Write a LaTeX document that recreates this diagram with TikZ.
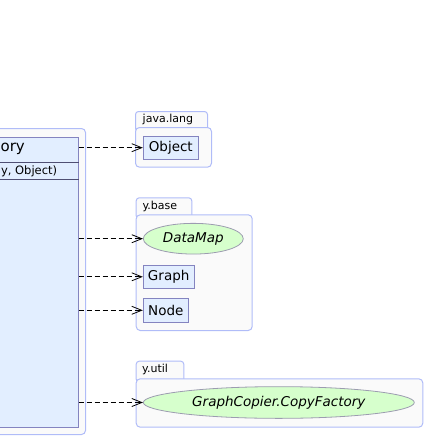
\documentclass[tikz,border=0pt]{standalone}
\usepackage{fontspec}
\setmainfont{DejaVu Sans}
\usetikzlibrary{arrows.meta,shapes.geometric}
\definecolor{pkgfill}{HTML}{FAFAFA}
\definecolor{pkgline}{HTML}{B0BCF8}
\definecolor{clsfill}{HTML}{E2EEFF}
\definecolor{clsline}{HTML}{8484C0}
\definecolor{ifill}{HTML}{D6FFCC}
\definecolor{iline}{HTML}{9C9CB0}
\begin{document}
\begin{tikzpicture}[x=1pt,y=-1pt,
  pkg/.style={draw=pkgline, fill=pkgfill, rounded corners=4pt, line width=1pt, inner sep=0pt, anchor=north west},
  pkgtab/.style={pkg, rounded corners=3pt},
  tablabel/.style={anchor=west, inner sep=0pt, font=\fontsize{11}{13}\selectfont},
  cls/.style={draw=clsline, fill=clsfill, line width=1pt, inner sep=0pt, font=\fontsize{13.5}{15}\selectfont},
  iface/.style={ellipse, draw=iline, fill=ifill, line width=0.8pt, inner sep=0pt, font=\fontsize{13.5}{15}\selectfont\itshape},
  dep/.style={draw=black, line width=0.8pt, dash pattern=on 5pt off 3pt, -{Straight Barb[length=10pt,width=8pt]}}]
\useasboundingbox (0,0) rectangle (425,437);

% left package with class
\node[pkg, minimum width=95pt, minimum height=306pt] (lpkg) at (-10,128) {};
\node[draw=clsline, fill=clsfill, line width=1pt, inner sep=0pt, anchor=north west, minimum width=87.7pt, minimum height=290pt] (cls) at (-10,136.7) {};
\draw[clsline!60!black, line width=0.8pt] (cls.west |- 0,162.3) coordinate (s1a) -- (cls.east |- 0,162.3) coordinate (s1b);
\draw[clsline!60!black, line width=0.8pt] (cls.west |- 0,179) coordinate (s2a) -- (cls.east |- 0,179) coordinate (s2b);
\node[anchor=east, inner sep=0pt, font=\fontsize{15}{17}\selectfont] (clsname) at (25,148.5) {ory};
\node[anchor=east, inner sep=0pt, font=\fontsize{11.5}{13}\selectfont] (clsop) at (57.3,171) {y, Object)};

% java.lang
\node[pkgtab, minimum width=72pt, minimum height=20pt] (jltab) at (135,111) {};
\node[pkg, minimum width=76pt, minimum height=39.7pt] (jl) at (135,127) {};
\node[tablabel] (jllab) at (142.5,119) {java.lang};
\node[cls, minimum width=55pt, minimum height=23.3pt] (obj) at (170.8,147.7) {Object};

% y.base
\node[pkgtab, minimum width=55.6pt, minimum height=21pt] (ybtab) at (135.7,197.3) {};
\node[pkg, minimum width=116pt, minimum height=115.7pt] (yb) at (135.7,214.3) {};
\node[tablabel] (yblab) at (142.3,206) {y.base};
\node[iface, minimum width=100pt, minimum height=30.7pt] (dm) at (193.3,238.7) {DataMap};
\node[cls, minimum width=50.7pt, minimum height=23pt] (graph) at (168.7,276.8) {Graph};
\node[cls, minimum width=45pt, minimum height=24pt] (node) at (165.8,310.3) {Node};

% y.util
\node[pkgtab, minimum width=47.6pt, minimum height=21pt] (yutab) at (135.7,360.7) {};
\node[pkg, minimum width=286.6pt, minimum height=48.4pt] (yu) at (135.7,378.3) {};
\node[tablabel] (yulab) at (142,369.5) {y.util};
\node[iface, minimum width=271pt, minimum height=31.7pt] (gc) at (278.8,402.5) {GraphCopier.CopyFactory};

% dependencies
\draw[dep] (cls.east |- obj.west) -- (obj.west);
\draw[dep] (cls.east |- dm.west) -- (dm.west);
\draw[dep] (cls.east |- graph.west) -- (graph.west);
\draw[dep] (cls.east |- node.west) -- (node.west);
\draw[dep] (cls.east |- gc.west) -- (gc.west);
\end{tikzpicture}
\end{document}
